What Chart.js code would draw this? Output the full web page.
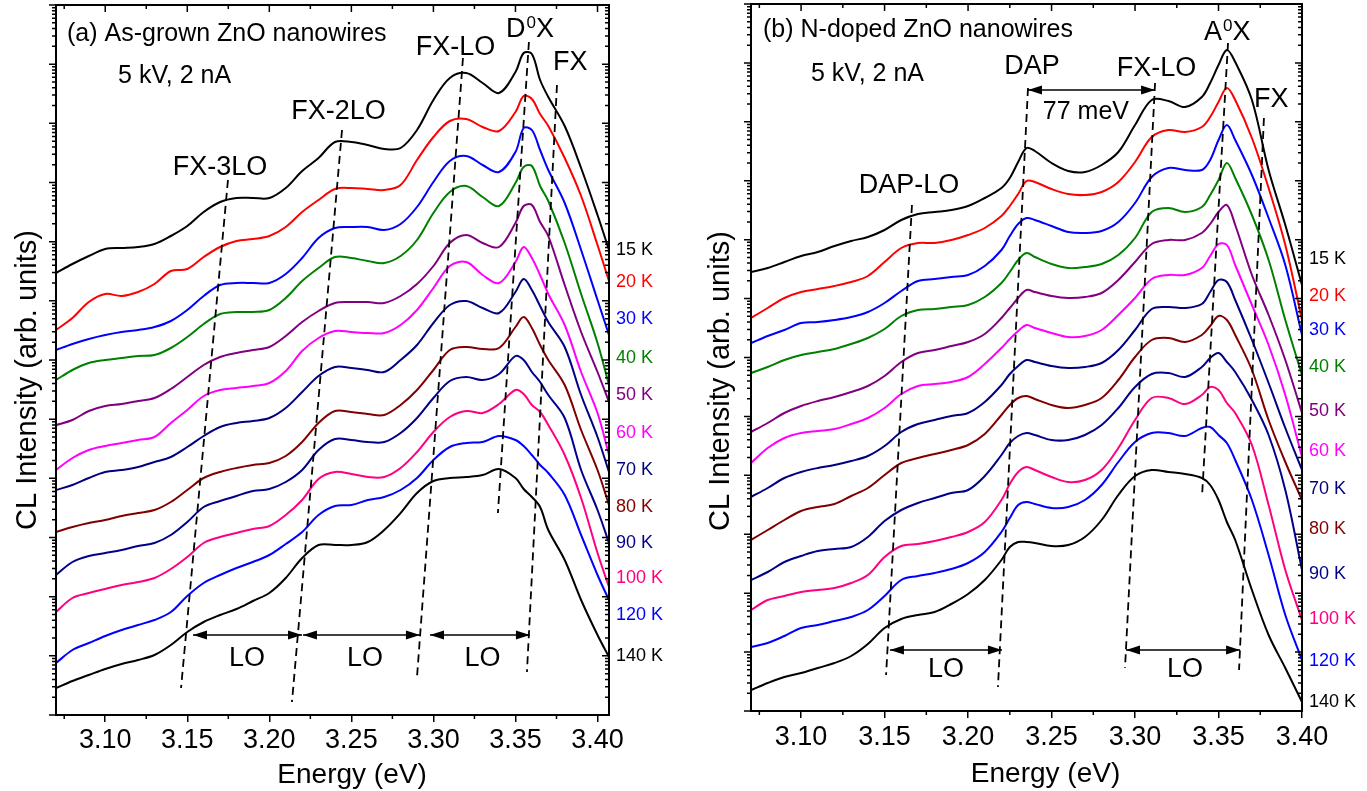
<!DOCTYPE html>
<html>
<head>
<meta charset="utf-8">
<title>CL spectra of ZnO nanowires</title>
<script src="https://cdn.jsdelivr.net/npm/chart.js@4.4.1/dist/chart.umd.min.js"></script>
<style>
  html, body { margin: 0; padding: 0; background: #fff; }
  #wrap { position: relative; width: 1367px; height: 791px; }
  .panel { position: absolute; top: 0; width: 683px; height: 791px; }
</style>
</head>
<body>
<div id="wrap">
  <div class="panel" style="left:0"><canvas id="chartA" width="683" height="791"></canvas></div>
  <div class="panel" style="left:684px"><canvas id="chartB" width="683" height="791"></canvas></div>
</div>
<script>
const FONT = "'Liberation Sans', Arial, sans-serif";

// temperatures and colours (same order in both panels)
const temps = ['15 K', '20 K', '30 K', '40 K', '50 K', '60 K', '70 K', '80 K', '90 K', '100 K', '120 K', '140 K'];
const tempColors = ['#000000', '#ff0000', '#0000ff', '#008000', '#800080', '#ff00ff',
                    '#000080', '#800000', '#00008b', '#ff0080', '#0000ff', '#000000'];
const energyTicks = [3.10, 3.15, 3.20, 3.25, 3.30, 3.35, 3.40];

// ---- (a) as-grown : photon energy (eV) and log intensity (arb., offset per temperature)
const energyA = [3.07, 3.08, 3.09, 3.10, 3.11, 3.12, 3.13, 3.14, 3.15, 3.16, 3.17, 3.18, 3.19, 3.20,
                 3.21, 3.22, 3.23, 3.24, 3.25, 3.26, 3.27, 3.28, 3.29, 3.30, 3.31, 3.32, 3.33, 3.34,
                 3.35, 3.355, 3.36, 3.365, 3.37, 3.38, 3.39, 3.40, 3.407];
const asGrown15  = [442,451,459,466,467,468,471,479,489,503,513,517,517,517,527,544,557,573,573,570,566,567,585,615,637,642,632,622,643,662,661,635,618,589,547,500,465];
const asGrown20  = [385,397,413,421,419,423,431,444,446,458,468,474,476,479,488,503,515,526,527,526,525,530,555,578,594,596,588,584,603,619,616,601,589,557,519,470,434];
const asGrown30  = [365,371,376,380,383,385,388,394,405,419,430,432,432,432,441,457,477,487,488,488,485,491,508,533,554,559,550,543,563,587,585,565,545,512,465,415,380];
const asGrown40  = [335,345,352,355,357,359,360,367,378,391,401,403,403,405,417,434,447,458,457,454,452,459,475,502,523,529,518,509,532,548,549,529,514,472,421,372,330];
const asGrown50  = [290,295,304,309,311,314,317,326,338,350,358,362,365,368,379,393,404,412,413,413,412,419,431,449,472,480,472,468,492,509,510,493,479,430,383,343,313];
const asGrown60  = [245,257,265,269,272,275,278,292,305,319,325,327,329,332,344,364,377,384,383,382,382,390,405,427,449,453,440,432,453,468,457,440,421,390,343,302,260];
const asGrown70  = [225,230,237,243,245,248,253,258,268,279,288,292,294,297,307,323,339,348,347,345,343,355,370,392,410,414,407,402,423,436,425,409,393,368,320,278,243];
const asGrown80  = [183,188,192,195,199,202,205,213,225,237,243,247,250,252,259,273,292,304,303,301,300,310,325,345,365,368,366,367,388,398,387,370,355,330,285,245,210];
const asGrown90  = [140,153,159,162,165,169,172,180,193,208,214,219,224,226,233,245,265,276,275,273,273,282,297,317,334,338,335,341,359,355,343,333,320,297,245,205,172];
const asGrown100 = [103,117,122,126,130,133,137,146,158,172,178,182,186,189,200,215,236,243,241,238,238,247,263,283,298,304,302,311,325,321,310,303,290,260,217,162,128];
const asGrown120 = [52,65,72,79,85,90,95,103,119,132,140,147,153,160,171,183,200,209,210,215,218,225,237,255,268,272,273,279,275,269,260,250,242,220,180,140,115];
const asGrown140 = [27,34,40,46,51,55,60,70,83,93,100,106,114,122,137,157,170,170,170,173,185,202,222,234,237,238,240,246,237,226,218,208,185,155,115,80,58];

// ---- (b) N-doped
const energyB = [3.07, 3.08, 3.09, 3.10, 3.11, 3.12, 3.13, 3.14, 3.15, 3.16, 3.17, 3.18, 3.19, 3.20,
                 3.21, 3.22, 3.225, 3.23, 3.235, 3.24, 3.25, 3.26, 3.27, 3.28, 3.29, 3.30, 3.31, 3.32,
                 3.33, 3.34, 3.345, 3.35, 3.355, 3.36, 3.37, 3.38, 3.39, 3.40];
const nDoped15  = [439,443,449,455,459,465,470,474,481,491,497,499,501,505,513,523,533,549,563,560,548,540,539,546,559,586,611,610,604,614,628,646,661,649,611,541,486,426];
const nDoped20  = [393,403,413,419,422,425,429,435,449,463,468,468,471,476,483,495,505,517,530,529,522,517,516,519,529,549,574,581,579,584,594,609,623,611,573,523,466,391];
const nDoped30  = [368,375,381,388,389,391,394,399,408,420,430,432,434,436,445,461,475,487,493,491,485,479,478,480,489,508,534,543,541,541,551,571,586,571,536,493,446,376];
const nDoped40  = [338,344,351,356,359,362,367,373,382,395,401,402,404,406,414,428,439,451,458,454,447,443,444,447,456,473,499,503,499,504,516,531,548,533,496,451,391,336];
const nDoped50  = [279,288,298,305,310,314,319,325,335,349,358,361,365,369,377,393,403,413,421,419,415,413,414,418,431,449,467,471,471,478,487,499,506,486,436,396,351,298];
const nDoped60  = [248,263,273,278,280,282,287,293,303,317,325,327,329,334,347,363,372,380,386,383,378,374,375,381,396,413,432,436,436,443,455,467,466,446,406,366,316,254];
const nDoped70  = [214,223,233,239,243,246,250,255,265,279,287,291,295,298,309,326,337,345,351,349,345,343,344,348,361,381,402,404,403,407,419,431,429,411,371,328,283,241];
const nDoped80  = [171,181,191,200,204,207,215,223,236,248,253,257,261,266,277,296,306,313,315,312,306,303,306,313,331,354,371,373,369,376,385,395,391,376,341,291,249,211];
const nDoped90  = [131,139,149,155,160,162,164,174,190,201,208,213,218,221,235,256,268,275,278,276,271,271,276,286,303,324,337,338,334,344,353,358,349,339,311,276,221,141];
const nDoped100 = [101,111,115,119,121,123,128,136,154,165,167,170,174,179,189,211,227,239,244,241,234,229,231,241,263,291,313,313,307,316,324,321,308,298,266,206,141,91];
const nDoped120 = [64,68,75,83,86,90,94,101,115,131,135,138,142,148,159,179,193,206,209,207,203,204,211,226,249,269,278,278,275,283,284,276,268,251,211,156,96,51];
const nDoped140 = [21,28,34,38,43,48,55,67,83,92,96,99,107,117,131,151,164,169,169,168,165,166,174,191,216,235,241,239,237,233,226,211,189,171,121,76,43,9];

// temperature label heights (same log-intensity units)
const tempLevelsA = [465, 433, 396, 357, 320, 282, 245, 208, 172, 137, 100, 59];
const tempLevelsB = [452, 415, 381, 344, 300, 260, 222, 182, 137, 92, 50, 9];

// annotations: [energy, level] in data units
const notesA = [
  { t: '(a) As-grown ZnO nanowires', e: 3.0767, v: 674, size: 25, align: 'left' },
  { t: '5 kV, 2 nA', e: 3.1078, v: 632, size: 25, align: 'left' },
  { t: 'FX-3LO', e: 3.1699, v: 540, size: 27, align: 'center' },
  { t: 'FX-2LO', e: 3.2421, v: 596, size: 27, align: 'center' },
  { t: 'FX-LO', e: 3.3134, v: 660, size: 27, align: 'center' },
  { t: 'D', sup: '0', after: 'X', e: 3.3442, v: 678, size: 27, align: 'left' },
  { t: 'FX', e: 3.3729, v: 645, size: 27, align: 'left' },
  { t: 'LO', e: 3.1864, v: 49, size: 27, align: 'center' },
  { t: 'LO', e: 3.2583, v: 49, size: 27, align: 'center' },
  { t: 'LO', e: 3.3299, v: 49, size: 27, align: 'center' }
];
const dashesA = [[3.1748, 535, 3.1462, 27], [3.2443, 585, 3.2138, 13], [3.3180, 657, 3.2900, 38],
                 [3.3582, 673, 3.3393, 202], [3.3753, 630, 3.3570, 43]];
const arrowsA = [[3.1535, 3.2199, 80], [3.2205, 3.2918, 80], [3.2979, 3.3588, 80]];

const notesB = [
  { t: '(b) N-doped ZnO nanowires', e: 3.0772, v: 674, size: 25, align: 'left' },
  { t: '5 kV, 2 nA', e: 3.1059, v: 630, size: 25, align: 'left' },
  { t: 'DAP-LO', e: 3.1646, v: 518, size: 27, align: 'center' },
  { t: 'DAP', e: 3.2383, v: 637, size: 27, align: 'center' },
  { t: 'FX-LO', e: 3.3129, v: 635, size: 27, align: 'center' },
  { t: '77 meV', e: 3.2706, v: 592, size: 25, align: 'center' },
  { t: 'A', sup: '0', after: 'X', e: 3.3413, v: 671, size: 27, align: 'left' },
  { t: 'FX', e: 3.3712, v: 604, size: 27, align: 'left' },
  { t: 'LO', e: 3.1868, v: 34, size: 27, align: 'center' },
  { t: 'LO', e: 3.3299, v: 34, size: 27, align: 'center' }
];
const dashesB = [[3.1664, 506, 3.1509, 36], [3.2359, 623, 3.2179, 24], [3.3120, 628, 3.2940, 43],
                 [3.3557, 668, 3.3401, 214], [3.3772, 593, 3.3623, 41]];
const arrowsB = [[3.1532, 3.2203, 61], [3.2946, 3.3629, 61], [3.2359, 3.3120, 621]];

function arrowHead(ctx, x, y, dir) {
  ctx.beginPath();
  ctx.moveTo(x, y);
  ctx.lineTo(x - dir * 14, y - 4.5);
  ctx.lineTo(x - dir * 14, y + 4.5);
  ctx.closePath();
  ctx.fill();
}

function decor(p) {
  return {
    id: 'decor',
    afterDraw(chart) {
      const { ctx, chartArea: a, scales: { x, y } } = chart;
      const px = e => x.getPixelForValue(e);
      const py = v => y.getPixelForValue(v);
      ctx.save();
      ctx.strokeStyle = '#000';
      ctx.fillStyle = '#000';

      // frame
      ctx.lineWidth = 2;
      ctx.strokeRect(a.left, a.top, a.right - a.left, a.bottom - a.top);

      // extra ticks: top (inward), minor bottom, log ticks left (outward) & right (inward)
      ctx.lineWidth = 1.5;
      ctx.beginPath();
      energyTicks.forEach(v => {
        const X = px(v);
        ctx.moveTo(X, a.top); ctx.lineTo(X, a.top + 7);
        const m = v - 0.025;
        if (m > p.xMin) {
          const M = px(m);
          ctx.moveTo(M, a.top); ctx.lineTo(M, a.top + 4);
          ctx.moveTo(M, a.bottom); ctx.lineTo(M, a.bottom + 4);
        }
      });
      const dec = p.yMax / p.decades;
      for (let n = 0; n <= p.decades; n++) {
        for (let k = 1; k <= 9; k++) {
          const lv = (n + Math.log10(k)) * dec;
          if (lv > p.yMax + 0.5) break;
          const Y = py(lv);
          const len = k === 1 ? 7 : 4;
          ctx.moveTo(a.left, Y); ctx.lineTo(a.left - len, Y);
          ctx.moveTo(a.right, Y); ctx.lineTo(a.right - len, Y);
        }
      }
      ctx.stroke();

      // dashed guide lines
      ctx.setLineDash([8, 5]);
      ctx.lineWidth = 1.8;
      p.dashes.forEach(d => {
        ctx.beginPath();
        ctx.moveTo(px(d[0]), py(d[1]));
        ctx.lineTo(px(d[2]), py(d[3]));
        ctx.stroke();
      });
      ctx.setLineDash([]);

      // double arrows
      ctx.lineWidth = 1.5;
      p.arrows.forEach(r => {
        const x1 = px(r[0]), x2 = px(r[1]), Y = py(r[2]);
        ctx.beginPath();
        ctx.moveTo(x1, Y); ctx.lineTo(x2, Y);
        ctx.stroke();
        arrowHead(ctx, x1, Y, -1);
        arrowHead(ctx, x2, Y, 1);
      });

      // texts
      ctx.textBaseline = 'alphabetic';
      p.notes.forEach(n => {
        const X = px(n.e), Y = py(n.v);
        ctx.font = n.size + 'px ' + FONT;
        ctx.textAlign = n.align;
        ctx.fillText(n.t, X, Y);
        if (n.sup) {
          let cx = X + ctx.measureText(n.t).width + 1;
          ctx.textAlign = 'left';
          ctx.font = Math.round(n.size * 0.62) + 'px ' + FONT;
          ctx.fillText(n.sup, cx, Y - 9);
          cx += ctx.measureText(n.sup).width;
          ctx.font = n.size + 'px ' + FONT;
          ctx.fillText(n.after, cx, Y);
        }
      });

      // temperature labels
      ctx.font = '18px ' + FONT;
      ctx.textAlign = 'left';
      ctx.textBaseline = 'middle';
      p.tempLevels.forEach((lv, i) => {
        ctx.fillStyle = tempColors[i];
        ctx.fillText(temps[i], a.right + 7, py(lv));
      });

      // axis titles
      ctx.fillStyle = '#000';
      ctx.font = '28px ' + FONT;
      ctx.textAlign = 'center';
      ctx.textBaseline = 'alphabetic';
      ctx.fillText('Energy (eV)', px(p.xTitleE), p.xTitleY);
      ctx.translate(p.yTitleX, py(p.yTitleV));
      ctx.rotate(-Math.PI / 2);
      ctx.font = '29px ' + FONT;
      ctx.textBaseline = 'middle';
      ctx.fillText('CL Intensity (arb. units)', 0, 0);
      ctx.restore();
    }
  };
}

function makeChart(id, p) {
  return new Chart(document.getElementById(id), {
    type: 'line',
    data: {
      datasets: p.series.map((s, i) => ({
        label: temps[i],
        data: p.energy.map((e, j) => ({ x: e, y: s[j] })),
        borderColor: tempColors[i],
        borderWidth: 2,
        pointRadius: 0,
        fill: false,
        tension: 0.35
      }))
    },
    options: {
      responsive: false,
      devicePixelRatio: 1,
      animation: false,
      events: [],
      layout: { padding: { left: p.padLeft, right: p.padRight, top: p.padTop, bottom: 0 } },
      plugins: { legend: { display: false }, tooltip: { enabled: false } },
      scales: {
        x: {
          type: 'linear',
          min: p.xMin,
          max: p.xMax,
          afterBuildTicks: s => { s.ticks = energyTicks.map(v => ({ value: v })); },
          afterFit: s => { s.height = p.axisHeight; },
          ticks: {
            callback: v => v.toFixed(2),
            font: { family: FONT, size: 27 },
            color: '#000',
            padding: p.tickPad,
            maxRotation: 0,
            autoSkip: false
          },
          grid: { drawOnChartArea: false, drawTicks: true, tickLength: 7, color: '#000', lineWidth: 1.5 },
          border: { display: true, color: '#000', width: 2 }
        },
        y: { display: false, min: 0, max: p.yMax }
      }
    },
    plugins: [decor(p)]
  });
}

makeChart('chartA', {
  energy: energyA,
  series: [asGrown15, asGrown20, asGrown30, asGrown40, asGrown50, asGrown60,
           asGrown70, asGrown80, asGrown90, asGrown100, asGrown120, asGrown140],
  xMin: 3.07, xMax: 3.407, yMax: 710, decades: 12,
  padLeft: 56, padRight: 74, padTop: 5, axisHeight: 76, tickPad: 2,
  notes: notesA, dashes: dashesA, arrows: arrowsA, tempLevels: tempLevelsA,
  xTitleE: 3.2504, xTitleY: 783, yTitleX: 28, yTitleV: 335
});

makeChart('chartB', {
  energy: energyB,
  series: [nDoped15, nDoped20, nDoped30, nDoped40, nDoped50, nDoped60,
           nDoped70, nDoped80, nDoped90, nDoped100, nDoped120, nDoped140],
  xMin: 3.07, xMax: 3.40, yMax: 707, decades: 12,
  padLeft: 67, padRight: 65, padTop: 4, axisHeight: 80, tickPad: 3,
  notes: notesB, dashes: dashesB, arrows: arrowsB, tempLevels: tempLevelsB,
  xTitleE: 3.2464, xTitleY: 782, yTitleX: 37, yTitleV: 330
});
</script>
</body>
</html>
